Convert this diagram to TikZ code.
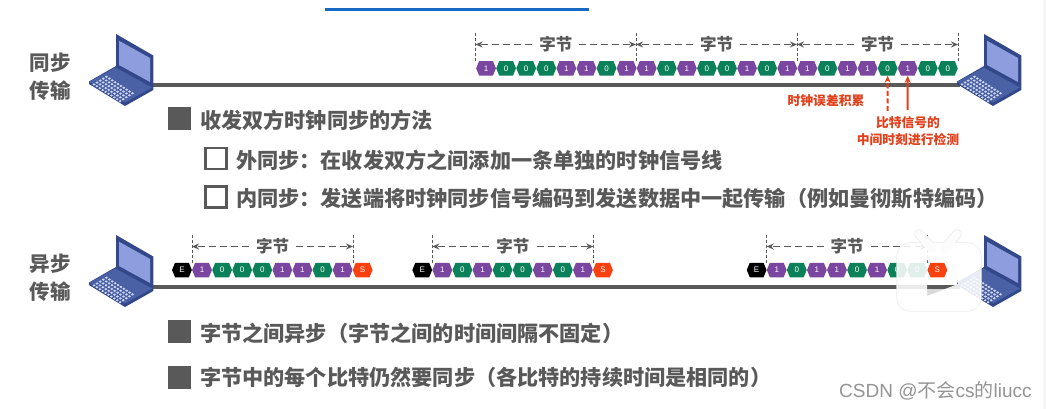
\documentclass[tikz,border=0pt]{standalone}
\usepackage{fontspec}
\usepackage{xcolor}
\usetikzlibrary{arrows.meta,shapes.symbols}
\newfontfamily\cjk{Noto Sans CJK SC}
\newfontfamily\latin{Liberation Sans}
\definecolor{ink}{HTML}{595959}
\definecolor{bitpurple}{HTML}{7A469F}
\definecolor{bitgreen}{HTML}{0A8158}
\definecolor{bitred}{HTML}{F9400F}
\definecolor{alert}{HTML}{E2401B}
\definecolor{lapframe}{HTML}{33488A}
\definecolor{lapscreen}{HTML}{8E9DDE}
\definecolor{lapdeck}{HTML}{4A61A6}
\definecolor{lapkey}{HTML}{D5DBF2}
\definecolor{topline}{HTML}{1769C4}
\begin{document}
\begin{tikzpicture}[x=1pt,y=-1pt,>={Stealth[length=7pt,width=6pt]},
wire/.style={draw=ink,line width=4pt},
bitcell/.style={signal,signal to=east and west,signal pointer angle=135,minimum width=19.8pt,minimum height=14.5pt,inner sep=0pt,text=white,font=\latin\fontsize{8}{9}\selectfont},
bit1/.style={bitcell,fill=bitpurple},bit0/.style={bitcell,fill=bitgreen},
bitE/.style={bitcell,fill=black},bitS/.style={bitcell,fill=bitred},
edgeline/.style={draw=ink,line width=0.7pt,dash pattern=on 3pt off 2pt},
bytearrow/.style={->,draw=ink,line width=1.5pt,dash pattern=on 7pt off 4pt},
bytelabel/.style={inner xsep=7pt,inner ysep=0pt,text=ink,font=\cjk\bfseries\fontsize{16.5}{18}\selectfont},
sidelabel/.style={inner sep=0pt,align=center,text=ink,font=\cjk\bfseries\fontsize{20.5}{28}\selectfont},
maintext/.style={anchor=west,inner sep=0pt,text=ink,font=\cjk\bfseries\fontsize{21.15}{24}\selectfont},
fullsquare/.style={fill=ink,inner sep=0pt,minimum size=23pt},
emptysquare/.style={draw=ink,line width=2.2pt,inner sep=0pt,minimum size=21pt},
redtext/.style={inner sep=0pt,text=alert,font=\cjk\bfseries\fontsize{12.8}{15}\selectfont},
redarrow/.style={-{Stealth[length=7pt,width=6pt]},draw=alert,line width=2pt}]
\useasboundingbox (0,0) rectangle (1046,409);
\fill[white] (0,0) rectangle (1046,409);
\fill[black!4] (1043,0) rectangle (1046,409);
\coordinate (topA) at (325,9.5); \coordinate (topB) at (589,9.5);
\draw[topline,line width=3pt] (topA)--(topB);
% wires
\coordinate (syncA) at (150,85); \coordinate (syncB) at (960,85);
\coordinate (asyncA) at (150,286.5); \coordinate (asyncB) at (960,286.5);
\draw[wire] (syncA)--(syncB);
\draw[wire] (asyncA)--(asyncB);
% laptops
\foreach \dx/\dy in {0/0,868/0,0/201,868/201}{
\begin{scope}[shift={(\dx,\dy)}]
\fill[lapframe] (116,34)--(153.3,55.5)--(153.3,90)--(125,106)--(89,84)--(89,81.5)--(116,66)--cycle;
\fill[lapscreen] (119,40.7)--(150,58)--(150,82)--(119,65)--cycle;
\fill[lapdeck] (89,82)--(115.5,67.5)--(152,87.5)--(125,102.5)--cycle;
\foreach \r in {0,...,4}{\foreach \c in {0,...,9}{
\fill[lapkey] ({94+\r*3.1+\c*2.9},{84.5-\r*1.95+\c*1.85}) circle[x radius=1.5pt,y radius=1.15pt];}}
\end{scope}}
% left labels
\node[sidelabel] (synclabel) at (50,77) {同步\\传输};
\node[sidelabel] (asynclabel) at (50,278) {异步\\传输};
% bit rows
\foreach \rowname/\xs/\ys/\bits in {
sa/476/68.3/{1,0,0,0,1,1,0,1,1,0,1,0,0,1,0,1,1,0,1,1,0,1,0,0},
aa/171.9/270/{E,1,0,0,0,1,1,0,1,S},
ab/412.2/270/{E,1,0,1,0,0,1,0,1,S},
ac/746.6/270/{E,1,0,1,1,0,1,0,0,S}}{
\foreach \b [count=\i] in \bits{
\node[bit\b] (\rowname-\i) at ({\xs+20.08*(\i-0.5)},\ys) {\b};}}
% byte spans
\foreach \spanname/\xa/\xb/\ya/\yb/\yc in {
s1/475.5/636/33/44.5/62,s2/636/797/33/44.5/62,s3/797/958/33/44.5/62,
a1/192/353/235/246.5/263,a2/432.3/593.3/235/246.5/263,a3/766.7/927.7/235/246.5/263}{
\coordinate (\spanname-l) at (\xa,\yb); \coordinate (\spanname-r) at (\xb,\yb);
\draw[edgeline] (\xa,\ya)--(\xa,\yc);
\draw[edgeline] (\xb,\ya)--(\xb,\yc);
\node[bytelabel] (\spanname-t) at ({(\xa+\xb)/2},\yb) {字节};
\draw[bytearrow] (\spanname-t.west)--(\spanname-l);
\draw[bytearrow] (\spanname-t.east)--(\spanname-r);}
% red notes
\node[redtext] (drift) at (826,101) {时钟误差积累};
\node[redtext,align=center,font=\cjk\bfseries\fontsize{12.8}{17}\selectfont] (sampling) at (908,131.5) {比特信号的\\中间时刻进行检测};
\coordinate (driftfoot) at (887.6,111); \coordinate (samplefoot) at (907.7,110);
\draw[redarrow,dash pattern=on 5pt off 2.5pt] (driftfoot)--(sa-21.south);
\draw[redarrow] (samplefoot)--(sa-22.south);
% bullets
\node[fullsquare] (bullet1) at (179,118.5) {};
\node[maintext] (line1) at (200,120) {收发双方时钟同步的方法};
\node[emptysquare] (box1) at (216,158.5) {};
\node[maintext] (line2) at (236,160.5) {外同步：在收发双方之间添加一条单独的时钟信号线};
\node[emptysquare] (box2) at (216,197) {};
\node[maintext] (line3) at (236,198.5) {内同步：发送端将时钟同步信号编码到发送数据中一起传输（例如曼彻斯特编码）};
\node[fullsquare] (bullet2) at (179,331.5) {};
\node[maintext] (line4) at (200,333) {字节之间异步（字节之间的时间间隔不固定）};
\node[fullsquare] (bullet3) at (179,377) {};
\node[maintext] (line5) at (200,377) {字节中的每个比特仍然要同步（各比特的持续时间是相同的）};
% player badge
\fill[black!15] (927,289)--(952,289)--(927,296)--cycle;
\draw[black!8,line width=9.5pt,line cap=round] (919,234)--(932,248);
\draw[black!8,line width=9.5pt,line cap=round] (957,234)--(945,248);
\draw[black!8,line width=1.2pt,rounded corners=13pt] (897,243) rectangle (981,311);
\begin{scope}[transparency group,opacity=0.88]
\fill[white,even odd rule,rounded corners=13pt] (897,243) rectangle (981,311)
[sharp corners] (927,260)--(949,261)--(958,284)--(927,296)--cycle;
\draw[white,line width=8pt,line cap=round] (919,234)--(932,248);
\draw[white,line width=8pt,line cap=round] (957,234)--(945,248);
\end{scope}
% watermark
\node[anchor=west,inner sep=0pt,text=black!42,font=\latin\fontsize{19}{21}\selectfont] (mark) at (839,391) {CSDN @{\cjk 不会}cs{\cjk 的}liucc};
\end{tikzpicture}
\end{document}
